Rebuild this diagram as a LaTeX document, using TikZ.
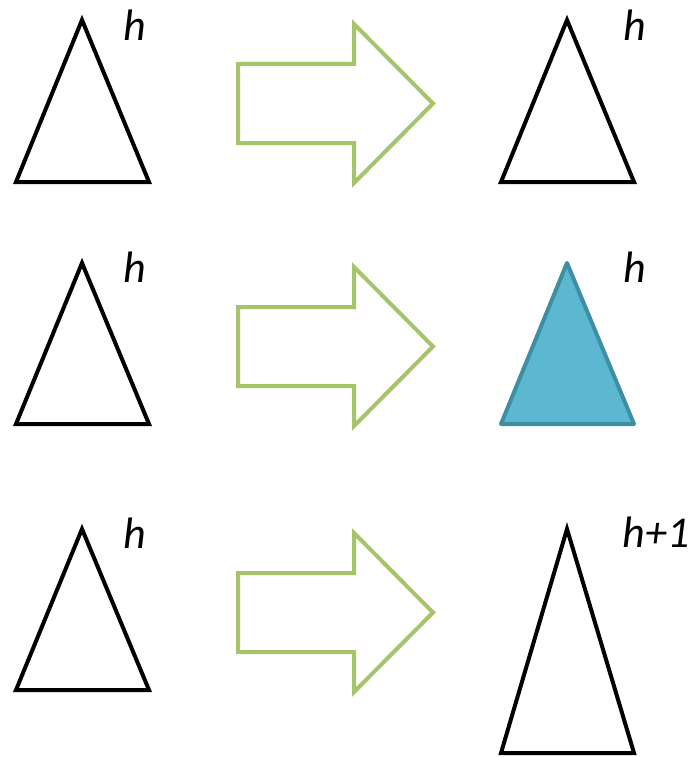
\documentclass[tikz,border=0pt]{standalone}
\usepackage{fontspec}
\setmainfont{Carlito}
\definecolor{arrgreen}{HTML}{A6C46A}
\definecolor{tfill}{HTML}{5BB8D0}
\definecolor{tline}{HTML}{3E8FA3}
\begin{document}
\begin{tikzpicture}[x=1pt,y=-1pt,
  tri/.style={draw=black,line width=4pt,line join=miter},
  bigarrow/.style={draw=arrgreen,line width=4pt,line join=miter},
  lbl/.style={font=\fontsize{44}{48}\selectfont\itshape,inner sep=0pt}]
\useasboundingbox (0,0) rectangle (700,757);
% row 1
\draw[tri] (82,20) -- (149,182) -- (16,182) -- cycle;
\node[lbl] (l1) at (135,25) {h};
\draw[bigarrow] (238,64) -- (354,64) -- (354,24) -- (433,103.5) -- (354,183) -- (354,143) -- (238,143) -- cycle;
\draw[tri] (567,20) -- (634,182) -- (501,182) -- cycle;
\node[lbl] (r1) at (635,25) {h};
% row 2
\draw[tri] (82,263) -- (149,424) -- (16,424) -- cycle;
\node[lbl] (l2) at (135,267) {h};
\draw[bigarrow] (238,307) -- (354,307) -- (354,267) -- (433,346.5) -- (354,426) -- (354,386) -- (238,386) -- cycle;
\draw[draw=tline,fill=tfill,line width=4pt,line join=round] (567,263) -- (634,424) -- (501,424) -- cycle;
\node[lbl] (r2) at (635,267) {h};
% row 3
\draw[tri] (82,529) -- (149,690) -- (16,690) -- cycle;
\node[lbl] (l3) at (135,533) {h};
\draw[bigarrow] (238,573) -- (354,573) -- (354,533) -- (433,612.5) -- (354,692) -- (354,652) -- (238,652) -- cycle;
\draw[tri] (567,529) -- (634,753) -- (501,753) -- cycle;
\node[lbl] (r3) at (656,532) {h+1};
\end{tikzpicture}
\end{document}
